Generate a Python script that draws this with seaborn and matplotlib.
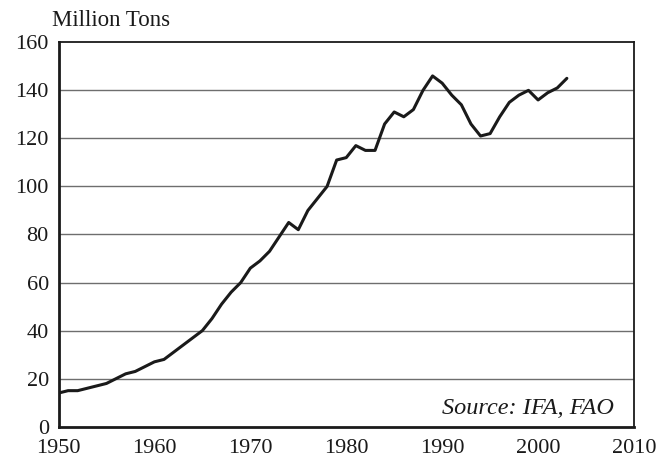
import matplotlib
matplotlib.use("Agg")
import matplotlib.pyplot as plt
import seaborn as sns
import pandas as pd

years = list(range(1950, 2004))
values = [14, 15, 15, 16, 17, 18, 20, 22, 23, 25,
          27, 28, 31, 34, 37, 40, 45, 51, 56, 60,
          66, 69, 73, 79, 85, 82, 90, 95, 100, 111,
          112, 117, 115, 115, 126, 131, 129, 132, 140, 146,
          143, 138, 134, 126, 121, 122, 129, 135, 138, 140,
          136, 139, 141, 145]
x_ticks = [1950, 1960, 1970, 1980, 1990, 2000, 2010]
y_ticks = [0, 20, 40, 60, 80, 100, 120, 140, 160]

sns.set_style("white")
plt.rcParams['font.family'] = ['Liberation Serif', 'DejaVu Serif']

df = pd.DataFrame({"year": years, "value": values})

fig = plt.figure(figsize=(6.58, 4.62), dpi=100)
ax = fig.add_axes([58.5/658, 1 - 426.7/462, (634 - 58.5)/658, (426.7 - 42.3)/462])

for y in y_ticks[1:-1]:
    ax.axhline(y, color="#6e6e6e", lw=1.0, zorder=1)

sns.lineplot(data=df, x="year", y="value", ax=ax, color="#1a1a1a", lw=2.2, zorder=3)

ax.set_xlim(1950, 2010)
ax.set_ylim(0, 160)
ax.set_xticks(x_ticks)
ax.set_yticks(y_ticks)
ax.set_xlabel("")
ax.set_ylabel("")
for s in ax.spines.values():
    s.set_visible(True)
    s.set_color("#1a1a1a")
    s.set_linewidth(1.3)
ax.spines['left'].set_linewidth(2.0)
ax.spines['bottom'].set_linewidth(2.0)
ax.tick_params(axis='both', which='major', direction='out', width=1,
               color="#555555", labelsize=16, labelcolor="#1a1a1a")
ax.tick_params(axis='x', length=5, pad=4)
ax.tick_params(axis='y', length=6, pad=1)

fig.text(52/658, 1 - 20/462, "Million Tons", fontsize=16.5, color="#1a1a1a",
         ha="left", va="center")
ax.text(0.965, 0.032, "Source: IFA, FAO", transform=ax.transAxes, fontsize=17.5,
        style="italic", ha="right", va="baseline", color="#1a1a1a")

fig.savefig("out.png", dpi=100)
